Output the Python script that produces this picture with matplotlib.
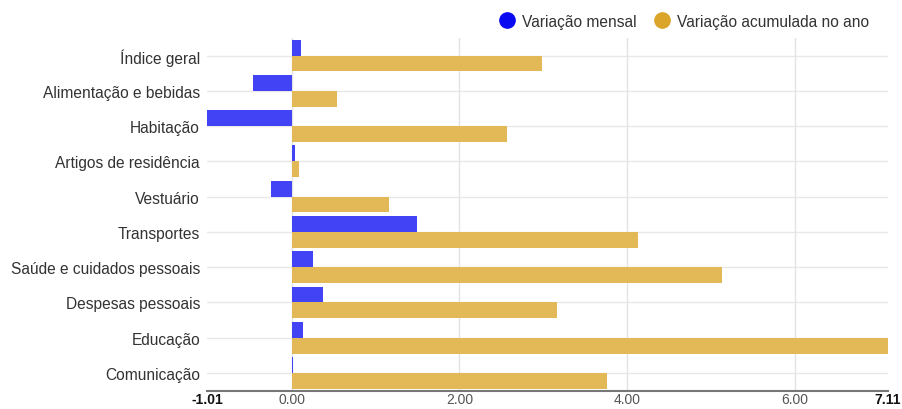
import numpy as np
from matplotlib import pyplot as plt
from matplotlib.lines import Line2D

plt.rcParams['font.family'] = ['Liberation Sans', 'DejaVu Sans']

# dados
categorias = ['Índice geral', 'Alimentação e bebidas', 'Habitação', 'Artigos de residência',
              'Vestuário', 'Transportes', 'Saúde e cuidados pessoais', 'Despesas pessoais',
              'Educação', 'Comunicação']
var_mensal = [0.11, -0.46, -1.01, 0.04, -0.25, 1.49, 0.25, 0.37, 0.13, 0.01]
var_acumulada = [2.98, 0.54, 2.57, 0.09, 1.16, 4.13, 5.13, 3.16, 7.11, 3.76]
ticks_x = [-1.01, 0.0, 2.0, 4.0, 6.0, 7.11]
labels_x = ['-1.01', '0.00', '2.00', '4.00', '6.00', '7.11']

cor_azul = '#4343F6'
cor_ouro = '#E3B958'

fig = plt.figure(figsize=(9.02, 4.10), dpi=100)
ax = fig.add_axes([0.2295, 0.045, 0.755, 0.86])

y = np.arange(len(categorias))
h = 0.45
ax.barh(y - h / 2, var_mensal, height=h, color=cor_azul, zorder=3)
ax.barh(y + h / 2, var_acumulada, height=h, color=cor_ouro, zorder=3)

ax.set_xlim(-1.01, 7.11)
ax.set_ylim(len(categorias) - 0.5, -0.5)

# grade
for yy in y:
    ax.axhline(yy, color='#e8e8e8', lw=1, zorder=1)
for xx in [0, 2, 4, 6]:
    ax.axvline(xx, color='#e3e3e3', lw=1, zorder=1)

ax.set_yticks(y)
ax.set_yticklabels(categorias, fontsize=11.2, color='#333333')
ax.set_xticks(ticks_x)
ax.set_xticklabels(labels_x, fontsize=10, color='#555555')
for i, t in enumerate(ax.get_xticklabels()):
    if i == 0 or i == len(ticks_x) - 1:
        t.set_fontweight('bold')
        t.set_color('#111111')
ax.tick_params(axis='both', length=0)
ax.tick_params(axis='y', pad=5)
ax.tick_params(axis='x', pad=1)

for s in ['top', 'right', 'left']:
    ax.spines[s].set_visible(False)
ax.spines['bottom'].set_color('#777777')
ax.spines['bottom'].set_linewidth(1.5)
ax.spines['bottom'].set_zorder(4)

handles = [Line2D([], [], marker='o', ls='', color='#0A0AF0', markersize=11),
           Line2D([], [], marker='o', ls='', color='#DAA52A', markersize=11)]
fig.legend(handles, ['Variação mensal', 'Variação acumulada no ano'], loc='center',
           bbox_to_anchor=(0.754, 0.946), ncol=2, frameon=False, fontsize=11.2,
           handletextpad=0.0, columnspacing=0.6, labelcolor='#333333')

plt.savefig('out.png', dpi=100)
